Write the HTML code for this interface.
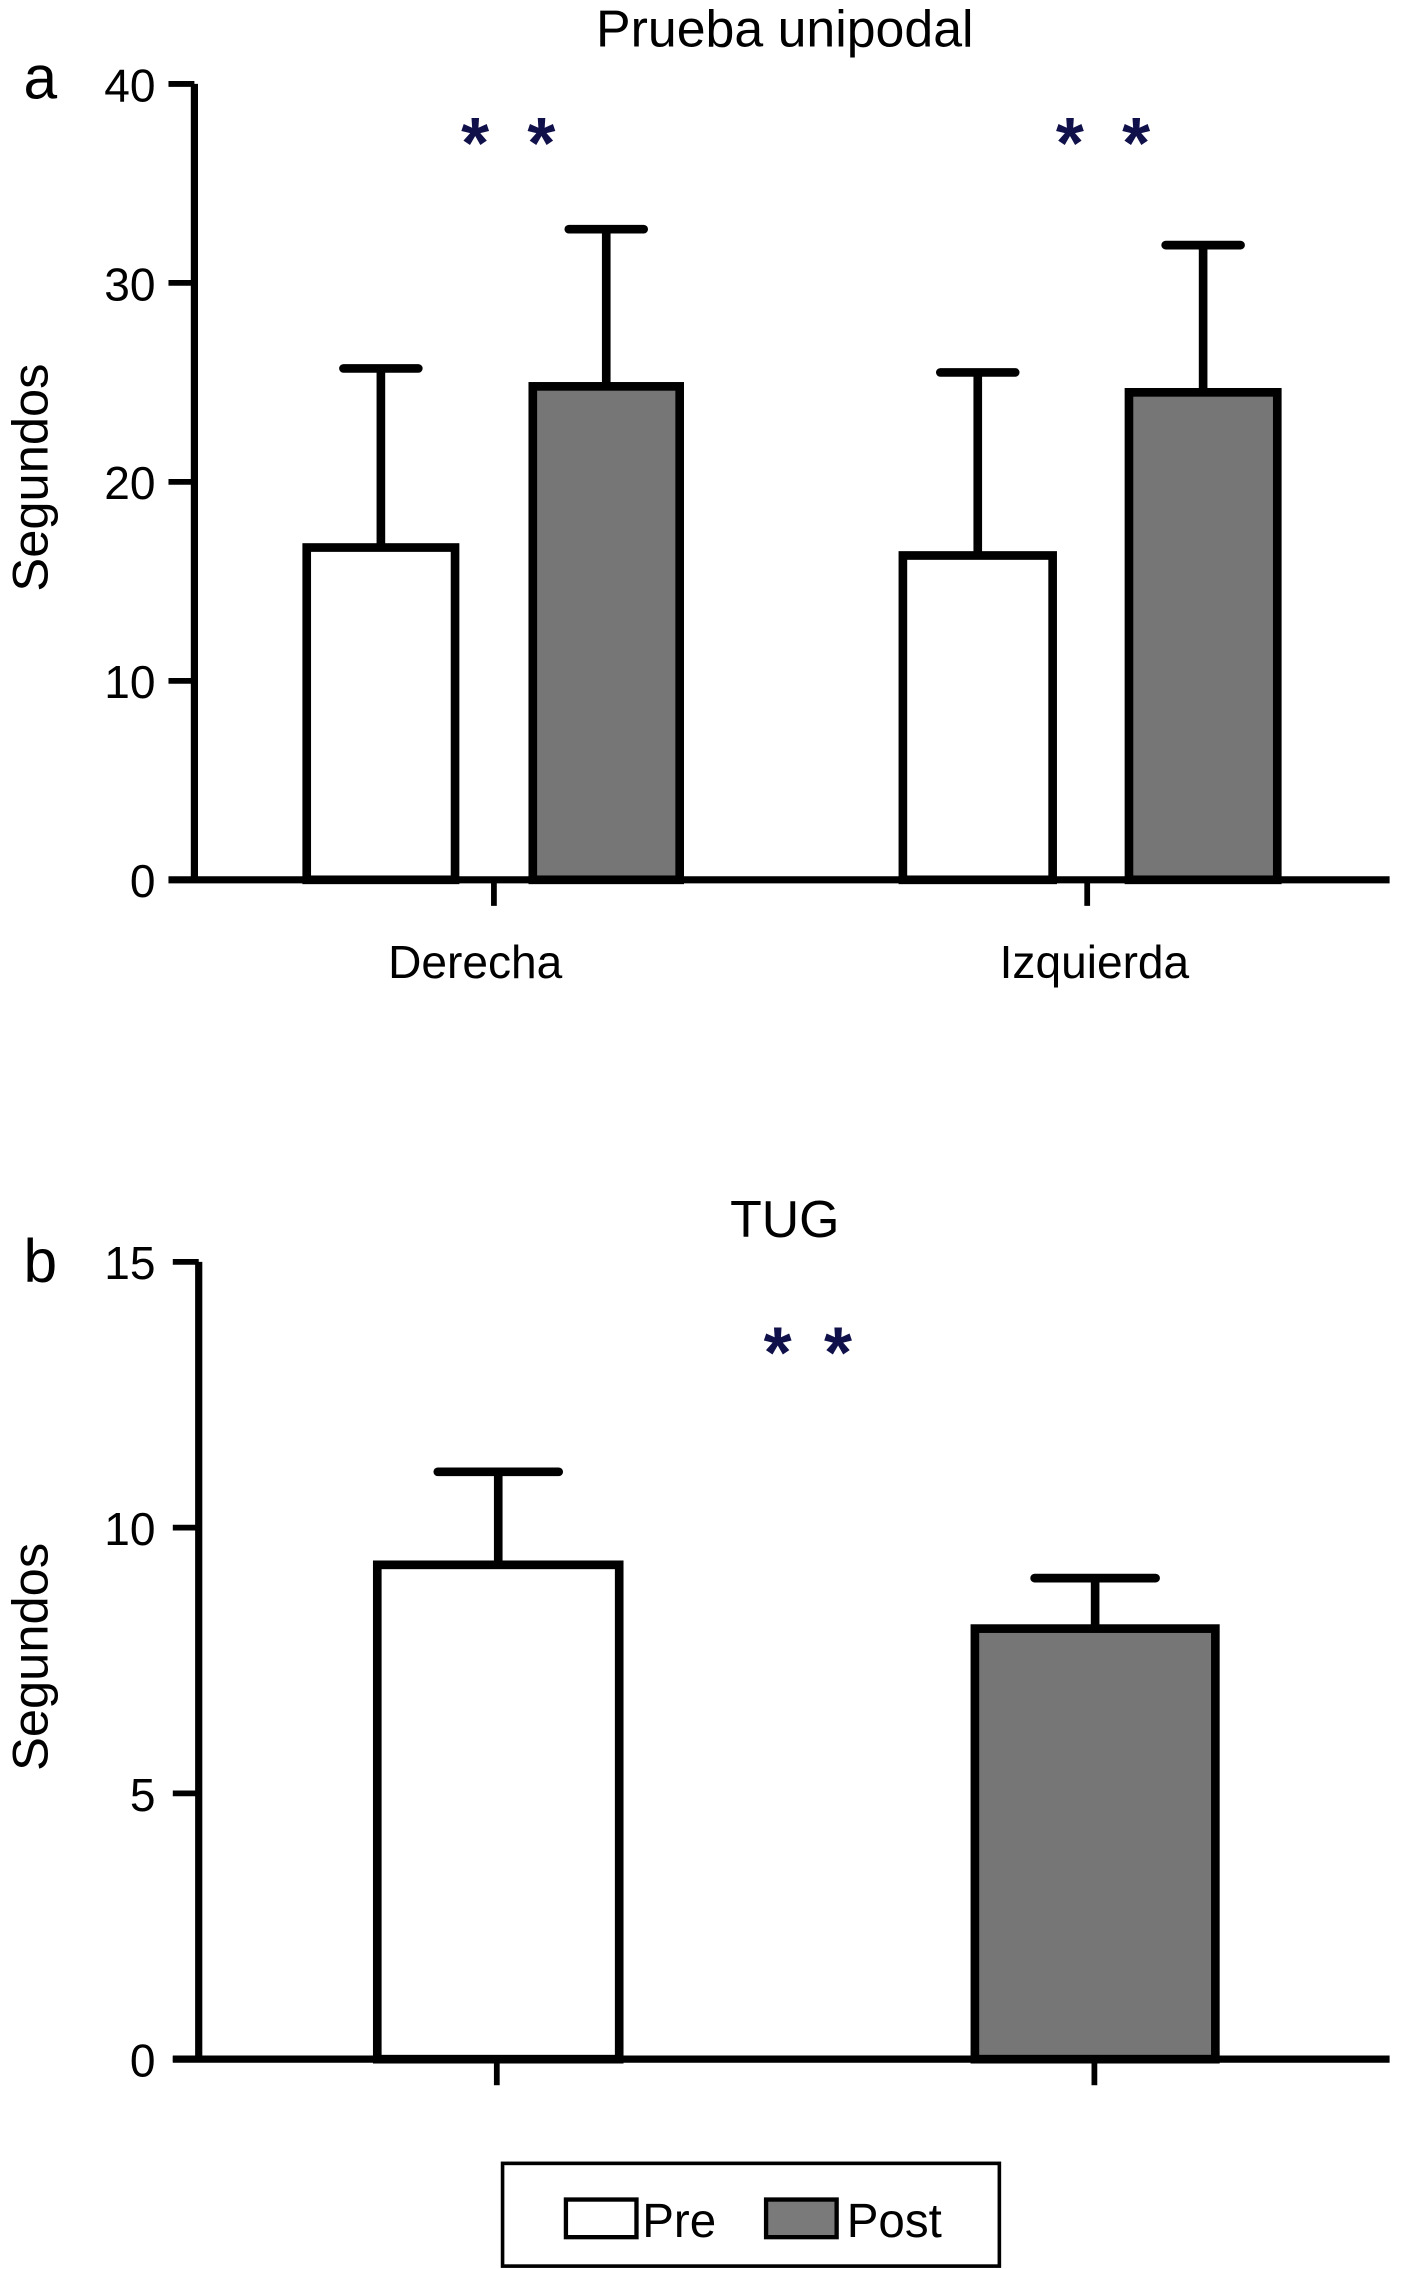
<!DOCTYPE html>
<html><head><meta charset="utf-8"><style>
html,body{margin:0;padding:0;background:#fff;}
svg{display:block;}
text{font-family:"Liberation Sans",sans-serif;fill:#000;}
</style></head><body>
<svg id="chart" width="1404" height="2269" viewBox="0 0 975 1568" preserveAspectRatio="none">
</svg>
<script>
const catsA = ["Derecha","Izquierda"];
const preA = [16.7, 16.3];
const preErrA = [25.7, 25.5];
const postA = [24.8, 24.5];
const postErrA = [32.7, 31.9];
const ticksA = [0,10,20,30,40];
const preB = [9.3];
const preErrB = [11.05];
const postB = [8.1];
const postErrB = [9.05];
const ticksB = [0,5,10,15];

const NS="http://www.w3.org/2000/svg";
const svg=document.getElementById('chart');
function el(tag,attrs,parent){const e=document.createElementNS(NS,tag);for(const k in attrs)e.setAttribute(k,attrs[k]);(parent||svg).appendChild(e);return e;}
function txt(s,attrs,parent){const e=el('text',attrs,parent);e.textContent=s;return e;}

function panel(cfg){
  const g=el('g',{});
  
  
  const y=v=>cfg.y0-(v/cfg.max)*(cfg.y0-cfg.yTop);
  const t=txt(cfg.title,{x:545,y:cfg.titleY,'text-anchor':'middle','font-size':36},g);
  
  
  const l=txt(cfg.letter,{x:28,y:cfg.letterY,'text-anchor':'middle','font-size':42},g);
  
  
  const yl=txt('Segundos',{x:0,y:0,'text-anchor':'middle','font-size':35,transform:`translate(33,${cfg.ylabelY}) rotate(-90)`},g);
  
  
  const ax=el('line',{x1:cfg.axX,y1:cfg.yTop,x2:cfg.axX,y2:cfg.y0,stroke:'#000','stroke-width':5},g);
  
  
  cfg.ticks.forEach(v=>{
    const tk=el('line',{x1:cfg.axX-18,y1:y(v),x2:cfg.axX,y2:y(v),stroke:'#000','stroke-width':4},g);
    
    
    const tl=txt(String(v),{x:108,y:y(v)+12,'text-anchor':'end','font-size':32},g);
    
    
  });
  const xa=el('line',{x1:cfg.axX-18,y1:cfg.y0,x2:965,y2:cfg.y0,stroke:'#000','stroke-width':5},g);
  
  
  cfg.groups.forEach((gr,i)=>{
    const xt=el('line',{x1:gr.tick,y1:cfg.y0,x2:gr.tick,y2:cfg.y0+18,stroke:'#000','stroke-width':4},g);
    
    
    if(gr.label){
      const xl=txt(gr.label,{x:gr.labelX,y:cfg.y0+68,'text-anchor':'middle','font-size':32},g);
      
      
    }
    gr.bars.forEach(b=>{
      const cx=(b.x1+b.x2)/2;
      const eb=el('line',{x1:cx,y1:y(b.v),x2:cx,y2:y(b.err),stroke:'#000','stroke-width':6},g);
      
      
      const cap=el('line',{x1:cx-b.cap,y1:y(b.err),x2:cx+b.cap,y2:y(b.err),stroke:'#000','stroke-width':6,'stroke-linecap':'round'},g);
      
      
      const r=el('rect',{x:b.x1,y:y(b.v),width:b.x2-b.x1,height:cfg.y0-y(b.v),fill:b.fill,stroke:'#000','stroke-width':6},g);
      
      
    });
    gr.stars.forEach(sx=>{
      const s=txt('*',{x:sx,y:cfg.starY,'text-anchor':'middle','font-size':50,'font-weight':'bold',style:'fill:#10104a'},g);
      
      
    });
  });
}

panel({name:'panel-a-prueba-unipodal',title:'Prueba unipodal',titleY:32,letter:'a',letterY:68,ylabelY:330,
  axX:135,yTop:58,y0:608,max:40,ticks:ticksA,starY:116,
  groups:catsA.map((c,i)=>({label:c,labelX:i===0?330:760,tick:i===0?343:755,stars:i===0?[330,376]:[743,789],
    bars:[{name:'bar-pre-'+c.toLowerCase(),x1:213,x2:316,v:preA[i],err:preErrA[i],fill:'#fff',cap:26},
          {name:'bar-post-'+c.toLowerCase(),x1:370,x2:472,v:postA[i],err:postErrA[i],fill:'#767676',cap:26}].map(b=>i===0?b:Object.assign(b,{x1:b.x1+414,x2:b.x2+415}))}))});

panel({name:'panel-b-tug',title:'TUG',titleY:855,letter:'b',letterY:886,ylabelY:1145,
  axX:138,yTop:872,y0:1423,max:15,ticks:ticksB,starY:952,
  groups:[{label:'',tick:345,stars:[540,582],bars:[{name:'bar-pre-tug',x1:262,x2:430,v:preB[0],err:preErrB[0],fill:'#fff',cap:42}]},
          {label:'',tick:760,stars:[],bars:[{name:'bar-post-tug',x1:677,x2:844,v:postB[0],err:postErrB[0],fill:'#767676',cap:42}]}]});

const lg=el('g',{});


el('rect',{x:349,y:1495,width:345,height:71,fill:'#fff',stroke:'#000','stroke-width':2.5},lg);
const s1=el('rect',{x:393,y:1520,width:49,height:26,fill:'#fff',stroke:'#000','stroke-width':3},lg);


const t1=txt('Pre',{x:446,y:1546,'font-size':33},lg);


const s2=el('rect',{x:532,y:1520,width:49,height:26,fill:'#7a7a7a',stroke:'#000','stroke-width':3},lg);


const t2=txt('Post',{x:588,y:1546,'font-size':33},lg);


</script>
</body></html>
